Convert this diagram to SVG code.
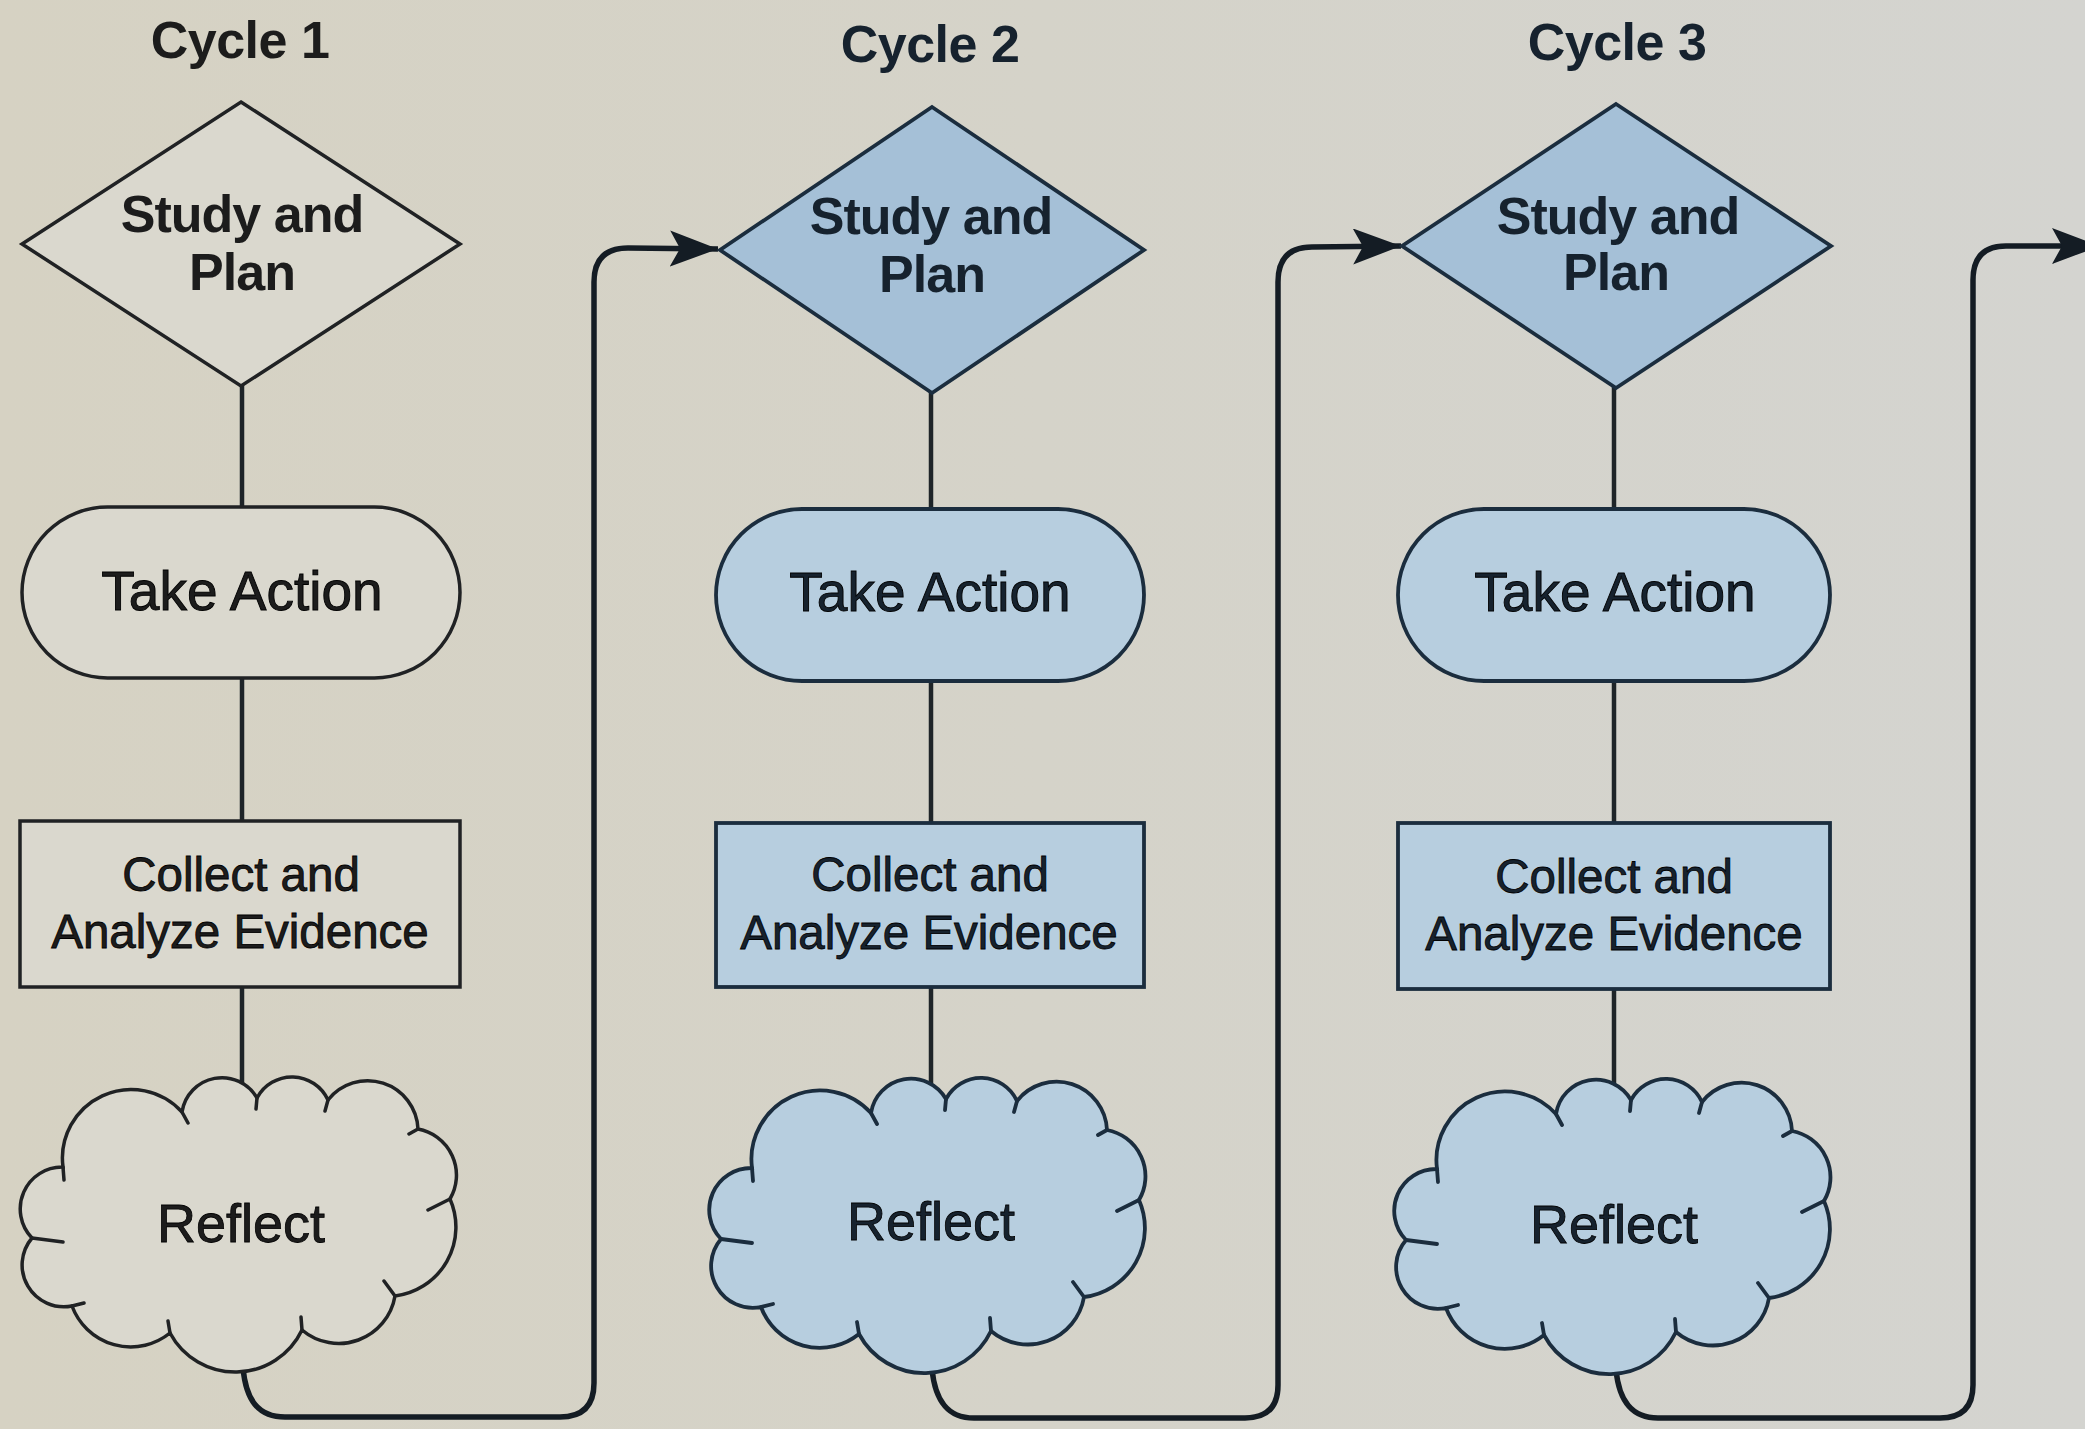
<svg xmlns="http://www.w3.org/2000/svg" width="2085" height="1429" viewBox="0 0 2085 1429">
  <defs>
    <linearGradient id="bg" x1="0" y1="0" x2="1" y2="0">
      <stop offset="0" stop-color="#d6d2c3"/>
      <stop offset="0.5" stop-color="#d5d3c9"/>
      <stop offset="1" stop-color="#d4d4d0"/>
    </linearGradient>
    <marker id="arr" markerUnits="userSpaceOnUse" markerWidth="52" markerHeight="40" refX="48" refY="18" orient="auto">
      <path d="M0,0 L48,18 L0,36 L10,18 z" fill="#141c24"/>
    </marker>
    <path id="cloud" d="M182,1112 A40.4,40.4 0 0 1 257,1098 A39.6,39.6 0 0 1 328,1100 A50.4,50.4 0 0 1 418,1129 A47,47 0 0 1 450,1199 A69.5,69.5 0 0 1 395,1296 A57,57 0 0 1 302,1330 A74,74 0 0 1 170,1333 A62.6,62.6 0 0 1 72,1306 A41.8,41.8 0 0 1 32,1238 A41.9,41.9 0 0 1 63,1167 A68.7,68.7 0 0 1 182,1112 Z"/>
    <path id="ticks" d="M182,1112 L188,1123 M257,1098 L256,1109 M328,1100 L325,1111 M418,1129 L409,1134 M450,1199 L428,1210 M395,1296 L384,1281 M302,1330 L301,1317 M170,1333 L168,1321 M72,1306 L84,1303 M32,1238 L63,1242 M63,1167 L64,1180"/>
  </defs>
  <style>
    .c1 { fill: #dad8ce; stroke: #202224; stroke-width: 3.5; }
    .cb { fill: #b7cedf; stroke: #1b2d3e; stroke-width: 3.8; }
    .db { fill: #a5c0d7; stroke: #1b2d3e; stroke-width: 3.8; }
    .tick1 { fill: none; stroke: #202224; stroke-width: 3.5; stroke-linecap: round; }
    .tickb { fill: none; stroke: #1b2d3e; stroke-width: 3.8; stroke-linecap: round; }
    .link { fill: none; stroke: #1e2428; stroke-width: 4.5; }
    .flow { fill: none; stroke: #141c24; stroke-width: 5.5; }
    text { font-family: "Liberation Sans", Arial, Helvetica, sans-serif; text-anchor: middle; fill: #1c1c1c; }
    .t2 { fill: #16222e; }
    .title { font-size: 52px; font-weight: bold; letter-spacing: -0.5px; }
    .sp { font-size: 52px; font-weight: bold; letter-spacing: -1px; }
    .ta { font-size: 55px; stroke: currentColor; stroke-width: 0.9; }
    .ca { font-size: 47.5px; stroke: currentColor; stroke-width: 0.8; }
    .rf { font-size: 54px; stroke: currentColor; stroke-width: 0.8; }
  </style>

  <rect x="0" y="0" width="2085" height="1429" fill="url(#bg)"/>

  <g id="connectors">
    <line class="link" x1="242" y1="380" x2="242" y2="510"/>
    <line class="link" x1="242" y1="676" x2="242" y2="823"/>
    <line class="link" x1="242" y1="985" x2="242" y2="1084"/>
    <line class="link" x1="931" y1="388" x2="931" y2="511"/>
    <line class="link" x1="931" y1="679" x2="931" y2="825"/>
    <line class="link" x1="931" y1="985" x2="931" y2="1085"/>
    <line class="link" x1="1614" y1="383" x2="1614" y2="511"/>
    <line class="link" x1="1614" y1="679" x2="1614" y2="825"/>
    <line class="link" x1="1614" y1="987" x2="1614" y2="1086"/>
    <path class="flow" marker-end="url(#arr)" d="M243,1368 C246,1400 258,1417 285,1417 L560,1417 Q594,1417 594,1383 L594,282 Q594,248 628,248 L718,249"/>
    <path class="flow" marker-end="url(#arr)" d="M932,1369 C935,1400 947,1418 974,1418 L1245,1418 Q1278,1418 1278,1385 L1278,282 Q1278,247 1312,247 L1401,246"/>
    <path class="flow" marker-end="url(#arr)" d="M1616,1370 C1619,1400 1631,1418 1658,1418 L1940,1418 Q1973,1418 1973,1385 L1973,280 Q1973,246 2006,246 L2100,246"/>
  </g>

  <g id="cycle1-label"><text class="title" x="240" y="58">Cycle 1</text></g>
  <g id="cycle2-label"><text class="title t2" x="930" y="62">Cycle 2</text></g>
  <g id="cycle3-label"><text class="title t2" x="1617" y="60">Cycle 3</text></g>

  <g id="study1">
    <polygon class="c1" points="241,102 460,244 241,386 22,244"/>
    <text class="sp" x="242" y="232">Study and</text>
    <text class="sp" x="242" y="290">Plan</text>
  </g>
  <g id="study2">
    <polygon class="db" points="932,107 1144,250 932,393 720,250"/>
    <text class="sp t2" x="931" y="234">Study and</text>
    <text class="sp t2" x="932" y="292">Plan</text>
  </g>
  <g id="study3">
    <polygon class="db" points="1616,104 1831,246 1616,388 1402,246"/>
    <text class="sp t2" x="1618" y="234">Study and</text>
    <text class="sp t2" x="1616" y="290">Plan</text>
  </g>

  <g id="action1">
    <rect class="c1" x="22" y="507" width="438" height="171" rx="85.5"/>
    <text class="ta" x="242" y="610">Take Action</text>
  </g>
  <g id="action2">
    <rect class="cb" x="716" y="509" width="428" height="172" rx="86"/>
    <text class="ta t2" x="930" y="611">Take Action</text>
  </g>
  <g id="action3">
    <rect class="cb" x="1398" y="509" width="432" height="172" rx="86"/>
    <text class="ta t2" x="1615" y="611">Take Action</text>
  </g>

  <g id="collect1">
    <rect class="c1" x="20" y="821" width="440" height="166"/>
    <text class="ca" x="241" y="891">Collect and</text>
    <text class="ca" x="240" y="948">Analyze Evidence</text>
  </g>
  <g id="collect2">
    <rect class="cb" x="716" y="823" width="428" height="164"/>
    <text class="ca t2" x="930" y="891">Collect and</text>
    <text class="ca t2" x="929" y="949">Analyze Evidence</text>
  </g>
  <g id="collect3">
    <rect class="cb" x="1398" y="823" width="432" height="166"/>
    <text class="ca t2" x="1614" y="893">Collect and</text>
    <text class="ca t2" x="1614" y="950">Analyze Evidence</text>
  </g>

  <g id="reflect1">
    <use href="#cloud" class="c1"/>
    <use href="#ticks" class="tick1"/>
    <text class="rf" x="241" y="1242">Reflect</text>
  </g>
  <g id="reflect2">
    <g transform="translate(689,1)">
      <use href="#cloud" class="cb"/>
      <use href="#ticks" class="tickb"/>
    </g>
    <text class="rf t2" x="931" y="1240">Reflect</text>
  </g>
  <g id="reflect3">
    <g transform="translate(1374,2)">
      <use href="#cloud" class="cb"/>
      <use href="#ticks" class="tickb"/>
    </g>
    <text class="rf t2" x="1614" y="1243">Reflect</text>
  </g>
</svg>
